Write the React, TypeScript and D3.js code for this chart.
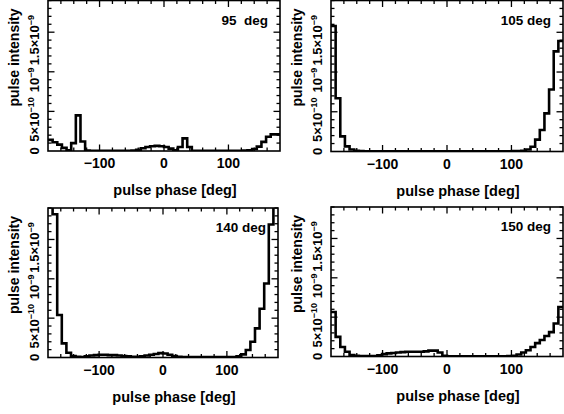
import React from "react";
import * as d3 from "d3";

// ---- data (intensity in units of 1e-10, 50 phase bins of 7.2 deg from -180 to 180) ----
const panelTitles = ["95  deg", "105 deg", "140 deg", "150 deg"];

const intensity95 = [
  1.4, 1.1, 0.8, 0.4, 0.1, 1.0, 4.5, 1.2, 0.05, 0.03,
  0.03, 0.03, 0.03, 0.03, 0.03, 0.03, 0.03, 0.03, 0.05, 0.15,
  0.35, 0.5, 0.6, 0.65, 0.6, 0.5, 0.3, 0.1, 0.5, 1.6,
  0.5, 0.03, 0.03, 0.03, 0.03, 0.03, 0.03, 0.03, 0.03, 0.03,
  0.03, 0.03, 0.05, 0.1, 0.25, 0.55, 1.15, 1.8, 2.1, 2.1,
];
const intensity105 = [
  15.8, 6.7, 1.9, 0.65, 0.25, 0.1, 0.05, 0.03, 0.03, 0.03,
  0.03, 0.03, 0.03, 0.03, 0.03, 0.03, 0.03, 0.03, 0.03, 0.03,
  0.03, 0.03, 0.03, 0.03, 0.03, 0.03, 0.03, 0.03, 0.03, 0.03,
  0.03, 0.03, 0.03, 0.03, 0.03, 0.03, 0.03, 0.03, 0.03, 0.05,
  0.05, 0.1, 0.25, 0.6, 1.5, 2.7, 4.8, 7.8, 12.6, 13.9,
];
const intensity140 = [
  22, 18.2, 5.4, 1.8, 0.6, 0.2, 0.1, 0.05, 0.15, 0.25,
  0.3, 0.35, 0.35, 0.3, 0.3, 0.25, 0.2, 0.15, 0.1, 0.1,
  0.15, 0.25, 0.35, 0.45, 0.55, 0.5, 0.35, 0.2, 0.1, 0.05,
  0.05, 0.05, 0.05, 0.05, 0.05, 0.05, 0.05, 0.05, 0.05, 0.05,
  0.05, 0.15, 0.4, 0.95, 2.0, 3.7, 6.2, 9.4, 16.9, 21,
];
const intensity150 = [
  5.65, 2.5, 1.2, 0.6, 0.2, 0.08, 0.05, 0.05, 0.05, 0.05,
  0.15, 0.3, 0.4, 0.45, 0.5, 0.55, 0.6, 0.6, 0.6, 0.6,
  0.65, 0.75, 0.75, 0.5, 0.1, 0.03, 0.03, 0.03, 0.03, 0.03,
  0.03, 0.03, 0.03, 0.03, 0.03, 0.03, 0.03, 0.03, 0.05, 0.1,
  0.25, 0.5, 0.8, 1.2, 1.7, 2.1, 2.6, 3.1, 4.2, 6.3,
];
const seriesList = [intensity95, intensity105, intensity140, intensity150];

const phaseDomain = [-180, 180];
const intensityUnit = 1e-10;
const intensityMax = 19e-10;
const xMajorTicks = [-100, 0, 100];
const xMinorStep = 20;
const yMajorTicks = [0, 5e-10, 1e-9, 1.5e-9];
const yMinorStep = 1e-10;
const xTitle = "pulse phase [deg]";
const yTitle = "pulse intensity";

// ---- layout ----
const boxes = [
  { x0: 48, x1: 280, y0: 0.5, y1: 151 },
  { x0: 331, x1: 563, y0: 0.5, y1: 151.5 },
  { x0: 48, x1: 278, y0: 208, y1: 357.5 },
  { x0: 331, x1: 563, y0: 207, y1: 356.5 },
];

const FONT = "'Liberation Sans', Arial, Helvetica, sans-serif";

function yLabel(v: number) {
  if (v === 0) return <>0</>;
  if (v === 5e-10) return <>5×10<tspan dy={-5} fontSize={9}>−10</tspan></>;
  if (v === 1e-9) return <>10<tspan dy={-5} fontSize={9}>−9</tspan></>;
  return <>1.5×10<tspan dy={-5} fontSize={9}>−9</tspan></>;
}

function Panel({ idx }: { idx: number }) {
  const b = boxes[idx];
  const data = seriesList[idx];
  const x = d3.scaleLinear().domain(phaseDomain).range([b.x0, b.x1]);
  const y = d3.scaleLinear().domain([0, intensityMax]).range([b.y1, b.y0]);
  const nBins = data.length;
  const binW = (phaseDomain[1] - phaseDomain[0]) / nBins;
  const pts: [number, number][] = data.map((v, i) => [phaseDomain[0] + i * binW, v * intensityUnit]);
  pts.push([phaseDomain[1], data[nBins - 1] * intensityUnit]);
  const line = d3
    .line<[number, number]>()
    .x((d) => x(d[0]))
    .y((d) => y(d[1]))
    .curve(d3.curveStepAfter);

  const xMinor = d3.range(phaseDomain[0] + xMinorStep, phaseDomain[1], xMinorStep);
  const yMinor = d3.range(1, Math.floor(intensityMax / yMinorStep) + 1).map((i) => i * yMinorStep);
  const isMajorX = (v: number) => Math.abs(v % 100) < 1e-6;
  const isMajorY = (v: number) => Math.abs((v / 5e-10) - Math.round(v / 5e-10)) < 1e-6;
  const clipId = `clip${idx}`;
  const cx = (b.x0 + b.x1) / 2;
  const labelYOffset = (v: number) => (v === 0 ? 0 : 8);

  return (
    <g>
      <defs>
        <clipPath id={clipId}>
          <rect x={b.x0} y={b.y0} width={b.x1 - b.x0} height={b.y1 - b.y0} />
        </clipPath>
      </defs>
      {/* x ticks bottom & top */}
      {xMinor.map((v) => {
        const len = isMajorX(v) ? 6.5 : 3.5;
        return (
          <g key={`xt${v}`} stroke="#000" strokeWidth={1.3}>
            <line x1={x(v)} x2={x(v)} y1={b.y1} y2={b.y1 - len} />
            <line x1={x(v)} x2={x(v)} y1={b.y0} y2={b.y0 + len} />
          </g>
        );
      })}
      {/* y ticks left & right */}
      {yMinor.map((v) => {
        const len = isMajorY(v) ? 6.5 : 3.5;
        return (
          <g key={`yt${v}`} stroke="#000" strokeWidth={1.3}>
            <line x1={b.x0} x2={b.x0 + len} y1={y(v)} y2={y(v)} />
            <line x1={b.x1} x2={b.x1 - len} y1={y(v)} y2={y(v)} />
          </g>
        );
      })}
      {/* histogram */}
      <path d={line(pts) || ""} fill="none" stroke="#000" strokeWidth={2.6} clipPath={`url(#${clipId})`} />
      {/* frame */}
      <rect x={b.x0} y={b.y0} width={b.x1 - b.x0} height={b.y1 - b.y0} fill="none" stroke="#000" strokeWidth={1.6} />
      {/* x tick labels */}
      {xMajorTicks.map((v) => (
        <text key={`xl${v}`} x={x(v)} y={b.y1 + 17} textAnchor="middle" fontFamily={FONT} fontSize={14} fontWeight="bold">
          {v < 0 ? `−${Math.abs(v)}` : `${v}`}
        </text>
      ))}
      {/* x title */}
      <text x={cx + 11} y={b.y1 + 44} textAnchor="middle" fontFamily={FONT} fontSize={14.5} fontWeight="bold">
        {xTitle}
      </text>
      {/* y tick labels */}
      {yMajorTicks.map((v) => (
        <text
          key={`yl${v}`}
          transform={`translate(${b.x0 - 9.5},${y(v) + labelYOffset(v)}) rotate(-90)`}
          textAnchor="middle"
          fontFamily={FONT}
          fontSize={13}
          fontWeight="bold"
        >
          {yLabel(v)}
        </text>
      ))}
      {/* y title */}
      <text
        transform={`translate(${b.x0 - 29.5},${b.y0 + 57}) rotate(-90)`}
        textAnchor="middle"
        fontFamily={FONT}
        fontSize={14}
        fontWeight="bold"
      >
        {yTitle}
      </text>
      {/* panel title */}
      <text x={b.x1 - 12} y={b.y0 + 24} textAnchor="end" fontFamily={FONT} fontSize={13.5} fontWeight="bold" style={{ whiteSpace: "pre" }}>
        {panelTitles[idx]}
      </text>
    </g>
  );
}

export default function App() {
  return (
    <svg width={564} height={414} style={{ position: "absolute", left: 0, top: 0, background: "#fff" }}>
      <rect x={0} y={0} width={564} height={414} fill="#fff" />
      {boxes.map((_, i) => (
        <Panel key={i} idx={i} />
      ))}
    </svg>
  );
}
